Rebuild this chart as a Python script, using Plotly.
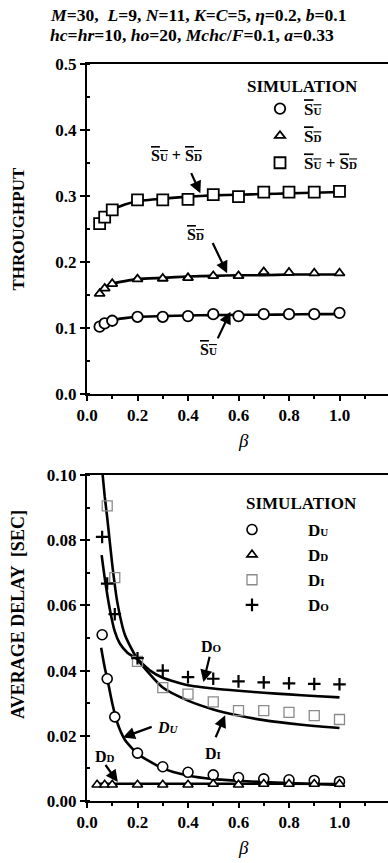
import plotly.graph_objects as go

# ---------------- data ----------------
# Top panel: throughput vs beta
beta_sim_top = [0.05, 0.07, 0.1, 0.2, 0.3, 0.4, 0.5, 0.6, 0.7, 0.8, 0.9, 1.0]
su_sim = [0.102, 0.107, 0.111, 0.117, 0.117, 0.118, 0.121, 0.118, 0.121, 0.121, 0.121, 0.123]
sd_sim = [0.152, 0.160, 0.167, 0.174, 0.175, 0.176, 0.179, 0.179, 0.185, 0.184, 0.183, 0.183]
tot_sim = [0.258, 0.268, 0.279, 0.294, 0.294, 0.295, 0.302, 0.299, 0.306, 0.306, 0.306, 0.307]

beta_line_top = [0.035, 0.05, 0.07, 0.1, 0.15, 0.2, 0.3, 0.4, 0.5, 0.6, 0.7, 0.8, 0.9, 1.0]
su_line = [0.101, 0.104, 0.108, 0.112, 0.115, 0.117, 0.118, 0.119, 0.1195, 0.120, 0.120, 0.1205, 0.121, 0.121]
sd_line = [0.150, 0.155, 0.162, 0.167, 0.171, 0.174, 0.176, 0.178, 0.179, 0.180, 0.180, 0.181, 0.181, 0.181]
tot_line = [0.255, 0.260, 0.270, 0.279, 0.287, 0.292, 0.296, 0.299, 0.301, 0.302, 0.303, 0.304, 0.305, 0.306]

# Bottom panel: average delay vs beta
beta_du_sim = [0.06, 0.08, 0.11, 0.2, 0.3, 0.4, 0.5, 0.6, 0.7, 0.8, 0.9, 1.0]
du_sim = [0.051, 0.0375, 0.0258, 0.0147, 0.0105, 0.0088, 0.0080, 0.0072, 0.0068, 0.0065, 0.0063, 0.0060]
beta_dd_sim = [0.04, 0.07, 0.1, 0.2, 0.3, 0.4, 0.5, 0.6, 0.7, 0.8, 0.9, 1.0]
dd_sim = [0.0050, 0.0050, 0.0050, 0.0050, 0.0050, 0.0050, 0.0052, 0.0050, 0.0052, 0.0052, 0.0052, 0.0052]
beta_di_sim = [0.08, 0.11, 0.2, 0.3, 0.4, 0.5, 0.6, 0.7, 0.8, 0.9, 1.0]
di_sim = [0.0905, 0.0685, 0.0428, 0.0348, 0.0328, 0.0304, 0.0277, 0.0277, 0.0272, 0.0262, 0.0250]
beta_do_sim = [0.06, 0.08, 0.11, 0.2, 0.3, 0.4, 0.5, 0.6, 0.7, 0.8, 0.9, 1.0]
do_sim = [0.081, 0.0667, 0.0573, 0.0438, 0.0400, 0.0380, 0.0375, 0.0367, 0.0364, 0.0361, 0.0359, 0.0358]

beta_du_line = [0.056, 0.07, 0.083, 0.1, 0.12, 0.15, 0.2, 0.3, 0.4, 0.5, 0.6, 0.7, 0.8, 0.9, 1.0]
du_line = [0.047, 0.041, 0.0365, 0.030, 0.024, 0.0188, 0.0145, 0.0100, 0.0078, 0.0067, 0.0062, 0.0058, 0.0055, 0.0052, 0.0049]
beta_dd_line = [0.04, 0.1, 0.2, 0.4, 0.6, 0.8, 1.0]
dd_line = [0.0053, 0.0053, 0.0053, 0.0053, 0.0053, 0.0053, 0.0052]
beta_di_line = [0.062, 0.07, 0.08, 0.1, 0.12, 0.15, 0.2, 0.3, 0.4, 0.5, 0.6, 0.7, 0.8, 0.9, 1.0]
di_line = [0.100, 0.0935, 0.087, 0.0725, 0.061, 0.051, 0.0435, 0.0348, 0.0308, 0.0281, 0.0262, 0.0248, 0.0238, 0.0230, 0.0224]
beta_do_line = [0.058, 0.07, 0.09, 0.11, 0.13, 0.16, 0.2, 0.25, 0.3, 0.4, 0.5, 0.6, 0.7, 0.8, 0.9, 1.0]
do_line = [0.0754, 0.0685, 0.059, 0.052, 0.0483, 0.0455, 0.0435, 0.040, 0.0378, 0.0355, 0.0345, 0.0338, 0.0332, 0.0327, 0.0322, 0.0318]

x_ticks = [0.0, 0.2, 0.4, 0.6, 0.8, 1.0]
x_ticktext = ["0.0", "0.2", "0.4", "0.6", "0.8", "1.0"]
y_ticks_top = [0.0, 0.1, 0.2, 0.3, 0.4, 0.5]
y_ticktext_top = ["0.0", "0.1", "0.2", "0.3", "0.4", "0.5"]
y_ticks_bot = [0.0, 0.02, 0.04, 0.06, 0.08, 0.10]
y_ticktext_bot = ["0.00", "0.02", "0.04", "0.06", "0.08", "0.10"]

# ---------------- geometry ----------------
# The figure is wider than the window; the part beyond the window edge is hidden
# (the reference's axes run off its right edge too).
W, H = 430, 863
ML, MR, MT, MB = 87, 0, 64, 62
PW, PH = W - ML - MR, H - MT - MB
X_PER_UNIT = 252.5  # pixels per unit of beta


def PX(px):
    return (px - ML) / PW


def PY(py):
    return (H - MB - py) / PH


# ---------------- styling helpers ----------------
FONT = "Liberation Serif"
BLACK = "black"


def sm(t):
    return f"<span style='font-size:11px'>{t}</span>"


def ov(t, sub):
    return f"<span style='text-decoration:overline'>{t}{sm(sub)}</span>"


def b(t):
    return f"<b>{t}</b>"


SU = ov("S", "U")
SD = ov("S", "D")

fig = go.Figure()

line_style = dict(color=BLACK, width=2.6, shape="spline", smoothing=0.6)

# top lines
for ys in (su_line, sd_line, tot_line):
    fig.add_trace(go.Scatter(x=beta_line_top, y=ys, mode="lines", line=line_style,
                             showlegend=False, hoverinfo="skip", xaxis="x", yaxis="y"))

mk_top = dict(color="white", size=10.5, line=dict(color=BLACK, width=1.8))
fig.add_trace(go.Scatter(x=beta_sim_top, y=su_sim, mode="markers", name=SU,
                         marker=dict(mk_top, symbol="circle"), legend="legend",
                         legendgroup="a", xaxis="x", yaxis="y"))
fig.add_trace(go.Scatter(x=beta_sim_top, y=sd_sim, mode="markers", name=SD,
                         marker=dict(mk_top, symbol="triangle-up", size=9), legend="legend",
                         legendgroup="b", xaxis="x", yaxis="y"))
fig.add_trace(go.Scatter(x=beta_sim_top, y=tot_sim, mode="markers", name=SU + " + " + SD,
                         marker=dict(mk_top, symbol="square", size=11), legend="legend",
                         legendgroup="c", xaxis="x", yaxis="y"))

# bottom lines
for bx, ys in ((beta_du_line, du_line), (beta_dd_line, dd_line),
               (beta_di_line, di_line), (beta_do_line, do_line)):
    fig.add_trace(go.Scatter(x=bx, y=ys, mode="lines", line=line_style, cliponaxis=True,
                             showlegend=False, hoverinfo="skip", xaxis="x2", yaxis="y2"))

fig.add_trace(go.Scatter(x=beta_du_sim, y=du_sim, mode="markers", name="D" + sm("U"),
                         marker=dict(symbol="circle", size=10, color="white",
                                     line=dict(color=BLACK, width=1.6)),
                         legend="legend2", legendgroup="d", xaxis="x2", yaxis="y2"))
fig.add_trace(go.Scatter(x=beta_dd_sim, y=dd_sim, mode="markers", name="D" + sm("D"),
                         marker=dict(symbol="triangle-up", size=9, color="white",
                                     line=dict(color=BLACK, width=1.6)),
                         legend="legend2", legendgroup="e", xaxis="x2", yaxis="y2"))
fig.add_trace(go.Scatter(x=beta_di_sim, y=di_sim, mode="markers", name="D" + sm("I"),
                         marker=dict(symbol="square-open", size=10, color="#8a8a8a",
                                     line=dict(color="#8a8a8a", width=1.3)),
                         legend="legend2", legendgroup="f", xaxis="x2", yaxis="y2"))
fig.add_trace(go.Scatter(x=beta_do_sim, y=do_sim, mode="markers", name="D" + sm("O"),
                         marker=dict(symbol="cross-thin", size=9, color=BLACK,
                                     line=dict(color=BLACK, width=2.2)),
                         legend="legend2", legendgroup="g", xaxis="x2", yaxis="y2"))

# ---------------- axes ----------------
tickfont = dict(family=FONT, size=17, color=BLACK)
xcommon = dict(range=[0, PW / X_PER_UNIT], tickvals=x_ticks, ticktext=[b(t) for t in x_ticktext],
               showgrid=False, zeroline=False, showline=True, linecolor=BLACK, linewidth=2,
               mirror=True, ticks="outside", ticklen=5, tickwidth=2, tickcolor=BLACK,
               tickfont=tickfont,
               minor=dict(dtick=0.1, tick0=0, ticks="outside", ticklen=3, tickwidth=1.5,
                          tickcolor=BLACK),
               domain=[0, 1])
ycommon = dict(showgrid=False, zeroline=False, showline=True, linecolor=BLACK, linewidth=2,
               ticks="outside", ticklen=5, tickwidth=2, tickcolor=BLACK, tickfont=tickfont)

fig.update_layout(
    width=W, height=H,
    margin=dict(l=ML, r=MR, t=MT, b=MB),
    paper_bgcolor="white", plot_bgcolor="white",
    font=dict(family=FONT, color=BLACK),
    xaxis=dict(xcommon, anchor="y"),
    yaxis=dict(ycommon, range=[0, 0.5], tickvals=y_ticks_top,
               ticktext=[b(t) for t in y_ticktext_top],
               domain=[PY(394), 1.0], anchor="x",
               minor=dict(dtick=0.05, tick0=0, ticks="inside", ticklen=3, tickwidth=1.5,
                          tickcolor=BLACK)),
    xaxis2=dict(xcommon, anchor="y2"),
    yaxis2=dict(ycommon, range=[0, 0.1], tickvals=y_ticks_bot,
                ticktext=[b(t) for t in y_ticktext_bot],
                domain=[0, PY(475)], anchor="x2",
                minor=dict(dtick=0.01, tick0=0, ticks="inside", ticklen=3, tickwidth=1.5,
                           tickcolor=BLACK)),
    legend=dict(x=PX(256), y=PY(91), xanchor="left", yanchor="top", bgcolor="rgba(0,0,0,0)",
                font=dict(family=FONT, size=17, color=BLACK, weight="bold"),
                itemwidth=38, tracegroupgap=2, traceorder="grouped"),
    legend2=dict(x=PX(196), y=PY(512), xanchor="left", yanchor="top", bgcolor="rgba(0,0,0,0)",
                 font=dict(family=FONT, size=17, color=BLACK, weight="bold"),
                 itemwidth=102, tracegroupgap=0, traceorder="grouped"),
)

anns = []


def ann(**kw):
    d = dict(showarrow=False, xanchor="center", yanchor="middle")
    d.update(kw)
    anns.append(d)


def bf(size):
    return dict(family=FONT, color=BLACK, size=size, weight="bold")


# header lines
ann(xref="paper", yref="paper", x=PX(48), y=PY(15), xanchor="left", font=bf(17.6),
    text=b("<i>M</i>=30,  <i>L</i>=9, <i>N</i>=11, <i>K</i>=<i>C</i>=5, <i>η</i>=0.2, <i>b</i>=0.1"))
ann(xref="paper", yref="paper", x=PX(48), y=PY(35), xanchor="left", font=bf(17.6),
    text=b("<i>hc</i>=<i>hr</i>=10, <i>ho</i>=20, <i>Mchc</i>/<i>F</i>=0.1, <i>a</i>=0.33"))

# axis titles
ann(xref="paper", yref="paper", x=PX(18.5), y=PY(229), textangle=-90,
    text=b("THROUGHPUT"), font=bf(17))
ann(xref="paper", yref="paper", x=PX(18), y=PY(615), textangle=-90,
    text=b("AVERAGE DELAY  [SEC]"), font=bf(18))
ann(xref="paper", yref="paper", x=PX(243), y=PY(440),
    text="<i>β</i>", font=dict(family=FONT, size=19, color=BLACK))
ann(xref="paper", yref="paper", x=PX(243), y=PY(847),
    text="<i>β</i>", font=dict(family=FONT, size=19, color=BLACK))

# legend titles
ann(xref="paper", yref="paper", x=PX(302), y=PY(86.7), text=b("SIMULATION"), font=bf(17))
ann(xref="paper", yref="paper", x=PX(301), y=PY(503), text=b("SIMULATION"), font=bf(17))

# curve labels (top)
ann(xref="x", yref="y", x=0.355, y=0.362, text=b(SU + " + " + SD), font=bf(16))
ann(xref="x", yref="y", x=0.431, y=0.241, text=b(SD), font=bf(16))
ann(xref="x", yref="y", x=0.482, y=0.0667, text=b(SU), font=bf(16))
# curve labels (bottom)
ann(xref="x2", yref="y2", x=0.494, y=0.0473, text=b("D" + sm("O")), font=bf(16))
ann(xref="x2", yref="y2", x=0.498, y=0.0146, text=b("D" + sm("I")), font=bf(16))
ann(xref="x2", yref="y2", x=0.319, y=0.0227, text=b("<i>D" + sm("U") + "</i>"), font=bf(16))
ann(xref="x2", yref="y2", x=0.072, y=0.0135, text=b("D" + sm("D")), font=bf(16))

# arrows: (axis suffix, tail x, tail y, tip x, tip y)
arrows = [
    ("", 0.41, 0.337, 0.449, 0.304),
    ("", 0.495, 0.231, 0.555, 0.183),
    ("", 0.515, 0.082, 0.568, 0.1247),
    ("2", 0.487, 0.0447, 0.461, 0.0365),
    ("2", 0.507, 0.0191, 0.547, 0.0263),
    ("2", 0.262, 0.0229, 0.142, 0.0195),
    ("2", 0.069, 0.0115, 0.122, 0.0058),
]
for ax_id, tx, ty, hx, hy in arrows:
    anns.append(dict(xref="x" + ax_id, yref="y" + ax_id, axref="x" + ax_id, ayref="y" + ax_id,
                     x=hx, y=hy, ax=tx, ay=ty, text="", showarrow=True, arrowhead=2,
                     arrowsize=1.1, arrowwidth=2.2, arrowcolor=BLACK, standoff=0))

fig.update_layout(annotations=anns)

fig.write_html(
    "out.html",
    config={"displayModeBar": False},
    post_script="document.body.style.margin='0';document.body.style.overflow='hidden';",
)
